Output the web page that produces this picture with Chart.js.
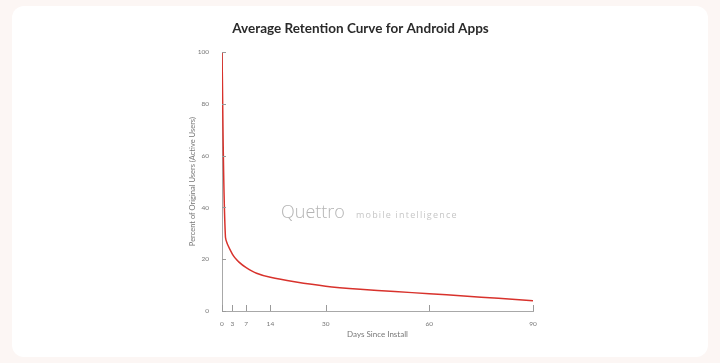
<!DOCTYPE html>
<html>
<head>
<meta charset="utf-8">
<script src="https://cdn.jsdelivr.net/npm/chart.js@4.4.1/dist/chart.umd.min.js"></script>
<style>
  html, body { margin: 0; padding: 0; background: #fcf6f4; }
  .card {
    position: absolute; left: 12px; top: 6px; width: 696px; height: 351px;
    background: #fff; border-radius: 12px;
  }
  #wrap { position: absolute; left: 0; top: 0; width: 720px; height: 363px; }
</style>
</head>
<body>
<div class="card"></div>
<div id="wrap"><canvas id="retentionChart"></canvas></div>
<script>
// days since install and share of users still active (%)
const days = [0, 1, 3, 5, 7, 10, 14, 21, 30, 40, 50, 60, 70, 80, 90];
const retention = [100, 28.5, 22, 18.8, 16.8, 14.6, 13, 11.3, 9.6, 8.4, 7.5, 6.7, 5.8, 4.9, 4];
const dayTicks = [0, 3, 7, 14, 30, 60, 90];
const pctTicks = [0, 20, 40, 60, 80, 100];

const tickFont = { family: "Lato", size: 6.5 };

// short tick marks pointing into the plot area
const innerTicks = {
  id: "innerTicks",
  afterDraw(chart) {
    const { ctx, chartArea, scales } = chart;
    ctx.save();
    ctx.strokeStyle = "#9a9a9a";
    ctx.lineWidth = 1;
    dayTicks.forEach((d) => {
      const x = Math.round(scales.x.getPixelForValue(d)) + 0.5;
      ctx.beginPath();
      ctx.moveTo(x, chartArea.bottom);
      ctx.lineTo(x, chartArea.bottom - 6);
      ctx.stroke();
    });
    pctTicks.forEach((p) => {
      const y = Math.round(scales.y.getPixelForValue(p)) + 0.5;
      ctx.beginPath();
      ctx.moveTo(chartArea.left, y);
      ctx.lineTo(chartArea.left + 4, y);
      ctx.stroke();
    });
    ctx.restore();
  },
};

// faint brand mark in the middle of the plot
const watermark = {
  id: "watermark",
  beforeDatasetsDraw(chart) {
    const { ctx } = chart;
    ctx.save();
    ctx.fillStyle = "#b4b4b4";
    ctx.textBaseline = "middle";
    ctx.font = "300 18px 'Open Sans'";
    ctx.fillText("Quettro", 281, 213);
    ctx.fillStyle = "#c6c6c6";
    ctx.font = "9px 'Open Sans'";
    ctx.letterSpacing = "1.2px";
    ctx.fillText("mobile intelligence", 356, 215);
    ctx.restore();
  },
};

new Chart(document.getElementById("retentionChart"), {
  type: "line",
  data: {
    datasets: [
      {
        label: "Retention",
        data: days.map((d, i) => ({ x: d, y: retention[i] })),
        borderColor: "#d8322c",
        borderWidth: 1.5,
        pointRadius: 0,
        tension: 0.25,
        fill: false,
      },
    ],
  },
  options: {
    responsive: true,
    maintainAspectRatio: false,
    animation: false,
    layout: { padding: { left: 188, right: 187, top: 0, bottom: 24 } },
    plugins: {
      legend: { display: false },
      tooltip: { enabled: false },
      title: {
        display: true,
        text: "Average Retention Curve for Android Apps",
        color: "#2a2a2a",
        font: { family: "Lato", size: 13.5, weight: "bold" },
        padding: { top: 21, bottom: 15 },
      },
    },
    scales: {
      x: {
        type: "linear",
        min: 0,
        max: 90,
        afterBuildTicks: (scale) => {
          scale.ticks = dayTicks.map((v) => ({ value: v }));
        },
        afterFit: (scale) => { scale.height = 28; },
        ticks: { color: "#777", font: tickFont, padding: 1, maxRotation: 0, autoSkip: false },
        grid: { display: false },
        border: { display: true, color: "#a8a8a8", width: 1 },
        title: {
          display: true,
          text: "Days Since Install",
          color: "#777",
          font: { family: "Lato", size: 8 },
          padding: { top: 2, bottom: 0 },
        },
      },
      y: {
        min: 0,
        max: 100,
        afterBuildTicks: (scale) => {
          scale.ticks = pctTicks.map((v) => ({ value: v }));
        },
        afterFit: (scale) => { scale.width = 34; },
        ticks: { color: "#777", font: tickFont, padding: 5 },
        grid: { display: false },
        border: { display: true, color: "#a8a8a8", width: 1 },
        title: {
          display: true,
          text: "Percent of Original Users (Active Users)",
          color: "#777",
          font: { family: "Lato", size: 7.5 },
          padding: { top: 0, bottom: 2 },
        },
      },
    },
  },
  plugins: [innerTicks, watermark],
});
</script>
</body>
</html>
